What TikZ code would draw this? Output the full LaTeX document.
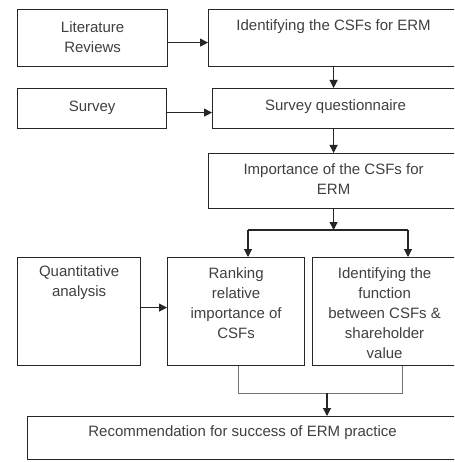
\documentclass[tikz,border=0pt]{standalone}
\usepackage{fontspec}
\setmainfont{Liberation Sans}
\usetikzlibrary{arrows.meta,calc}
\begin{document}
\begin{tikzpicture}[x=1pt,y=-1pt,
  box/.style={draw=black!85, line width=1.2pt, rectangle, inner sep=0pt, anchor=north west},
  txt/.style={font=\fontsize{15}{20}\selectfont, text=black!75, align=center, inner sep=0pt},
  arr/.style={draw=black!85, line width=1.1pt, -{Triangle[length=8pt,width=8pt]}},
  link/.style={draw=black!85, line width=1.1pt},
  thinlink/.style={draw=black!55, line width=0.8pt}]
\clip (0,0) rectangle (454,462);
\fill[white] (0,0) rectangle (454,462);

% boxes
\node[box, minimum width=150pt, minimum height=57pt]  (lit)    at (17,9)    {};
\node[box, minimum width=250pt, minimum height=57pt]  (idcsf)  at (208,9)   {};
\node[box, minimum width=149pt, minimum height=40pt]  (survey) at (17,88)   {};
\node[box, minimum width=246pt, minimum height=40pt]  (sq)     at (212,88)  {};
\node[box, minimum width=250pt, minimum height=55pt]  (imp)    at (208,153) {};
\node[box, minimum width=123pt, minimum height=108pt] (quant)  at (17,257)  {};
\node[box, minimum width=137pt, minimum height=108pt] (rank)   at (167,257) {};
\node[box, minimum width=144pt, minimum height=108pt] (func)   at (312,257) {};
\node[box, minimum width=430pt, minimum height=43pt]  (rec)    at (27,416)  {};

% labels
\node[txt] (lit-t)    at ($(lit.north)+(0,28)$)    {Literature\\Reviews};
\node[txt] (idcsf-t)  at ($(idcsf.north)+(0,18)$)  {Identifying the CSFs for ERM};
\node[txt] (survey-t) at ($(survey.north)+(0,19.5)$) {Survey};
\node[txt] (sq-t)     at ($(sq.north)+(0,19)$)     {Survey questionnaire};
\node[txt] (imp-t)    at ($(imp.north)+(0,26)$)    {Importance of the CSFs for\\ERM};
\node[txt] (quant-t)  at ($(quant.north)+(0,26)$)  {Quantitative\\analysis};
\node[txt] (rank-t)   at ($(rank.north)+(0,46)$)   {Ranking\\relative\\importance of\\CSFs};
\node[txt] (func-t)   at ($(func.north)+(0,56)$)   {Identifying the\\function\\between CSFs \&\\shareholder\\value};
\node[txt] (rec-t)    at ($(rec.north)+(0,17)$)    {Recommendation for success of ERM practice};

% connectors
\draw[arr] ([yshift=-4.5pt]lit.east) -- ([yshift=-4.5pt]idcsf.west);
\draw[arr] ([yshift=-4pt]survey.east) -- ([yshift=-4pt]sq.west);
\draw[arr] ([yshift=4pt]quant.east) -- ([yshift=4pt]rank.east -| rank.west);
\draw[arr] (idcsf.south) -- (idcsf.south |- sq.north);
\draw[arr] (imp.north |- sq.south) -- (imp.north);

\coordinate (jl) at (248,230);
\coordinate (jr) at (408,230);
\draw[arr] (imp.south) -- (imp.south |- jl);
\draw[link] (jl) -- (jr);
\draw[arr] (jl) -- (jl |- rank.north);
\draw[arr] (jr) -- (jr |- func.north);

\coordinate (ml) at (238,393);
\coordinate (mr) at (402,393);
\coordinate (mm) at (327,393);
\draw[thinlink] (rank.south -| ml) -- (ml) -- (mr) -- (func.south -| mr);
\draw[arr] (mm) -- (mm |- rec.north);
\end{tikzpicture}
\end{document}
